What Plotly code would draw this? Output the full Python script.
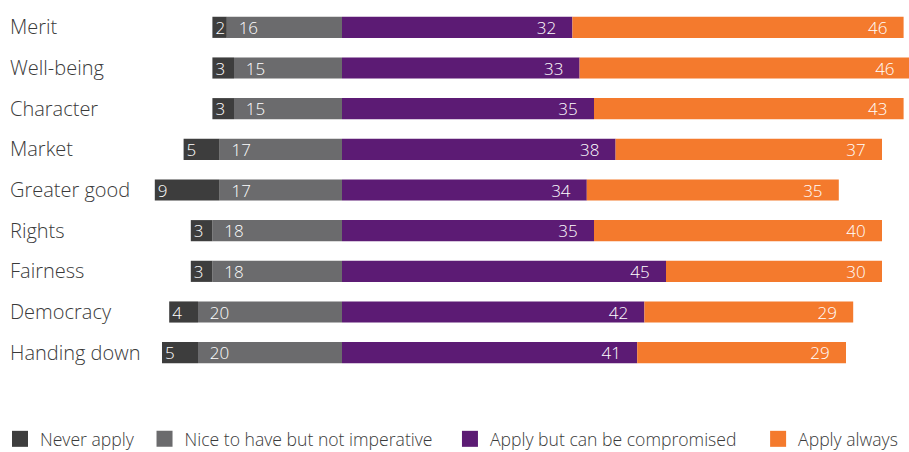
import plotly.graph_objects as go

categories = ["Merit", "Well-being", "Character", "Market", "Greater good",
              "Rights", "Fairness", "Democracy", "Handing down"]
never_apply = [2, 3, 3, 5, 9, 3, 3, 4, 5]
nice_to_have = [16, 15, 15, 17, 17, 18, 18, 20, 20]
compromised = [32, 33, 35, 38, 34, 35, 45, 42, 41]
always = [46, 46, 43, 37, 35, 40, 30, 29, 29]

series_names = ["Never apply", "Nice to have but not imperative",
                "Apply but can be compromised", "Apply always"]
colors = ["#3d3d3d", "#6b6b6d", "#5c1b74", "#f47a2d"]

NB = "\u00a0"
FONT = "Open Sans"

fig = go.Figure()

# left side (negative): stacked outward from zero
fig.add_trace(go.Bar(
    y=categories, x=[-v for v in nice_to_have], base=0,
    orientation="h", name=series_names[1], marker_color=colors[1],
    text=[NB * 2 + str(v) for v in nice_to_have]))
fig.add_trace(go.Bar(
    y=categories, x=[-v for v in never_apply],
    base=[-v for v in nice_to_have],
    orientation="h", name=series_names[0], marker_color=colors[0],
    text=[str(v) for v in never_apply]))
fig.add_trace(go.Bar(
    y=categories, x=compromised, base=0,
    orientation="h", name=series_names[2], marker_color=colors[2],
    text=[str(v) + NB * 3 for v in compromised]))
fig.add_trace(go.Bar(
    y=categories, x=always, base=compromised,
    orientation="h", name=series_names[3], marker_color=colors[3],
    text=[str(v) + NB * 3 for v in always]))

fig.update_traces(textposition="inside", insidetextanchor="end",
                  constraintext="none", showlegend=False,
                  textfont=dict(color="white", size=17, family=FONT, weight=300),
                  marker_line_width=0, textangle=0)

# legend entries (square swatches), one legend per entry for placement
legend_ids = ["legend", "legend2", "legend3", "legend4"]
for name, col, lid in zip(series_names, colors, legend_ids):
    fig.add_trace(go.Scatter(
        x=[None], y=[None], mode="markers", name=name, legend=lid,
        marker=dict(symbol="square", size=16, color=col),
        showlegend=True, hoverinfo="skip"))

legend_font = dict(size=17.6, color="#3a3a3a", family=FONT, weight=300)
lx = [-0.004, 0.159, 0.495, 0.834]
legend_common = dict(orientation="h", xanchor="left",
                     xref="container", yref="container",
                     y=0.029, yanchor="middle", font=legend_font,
                     itemsizing="trace",
                     bgcolor="rgba(0,0,0,0)", traceorder="normal")

fig.update_layout(
    width=909, height=452,
    margin=dict(l=0, r=0, t=7, b=79),
    barmode="overlay",
    bargap=0.48,
    plot_bgcolor="white", paper_bgcolor="white",
    showlegend=True,
    legend=dict(x=lx[0], **legend_common),
    legend2=dict(x=lx[1], **legend_common),
    legend3=dict(x=lx[2], **legend_common),
    legend4=dict(x=lx[3], **legend_common),
    xaxis=dict(range=[-47.5, 78.75], visible=False),
    yaxis=dict(categoryorder="array", categoryarray=categories,
               autorange="reversed", showgrid=False, showline=False,
               zeroline=False, ticks="", ticklabelposition="inside",
               ticklabelstandoff=7,
               tickfont=dict(size=20, color="#3a3a3a", family=FONT, weight=300)),
)

fig.write_html("out.html")
